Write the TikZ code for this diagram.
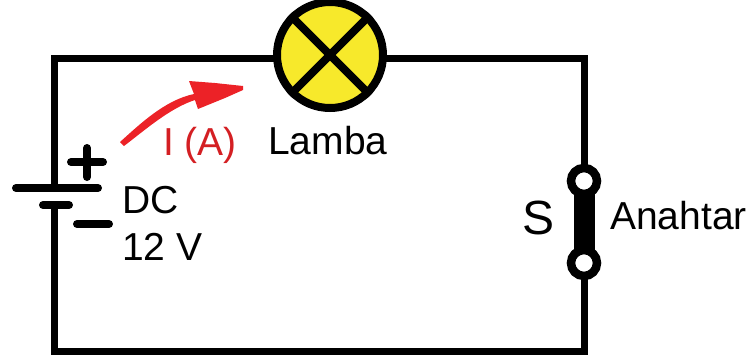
\documentclass[tikz,border=0pt]{standalone}
\usepackage{fontspec}
\setmainfont{Liberation Sans}
\definecolor{lampy}{HTML}{F7E92B}
\definecolor{cred}{HTML}{EC2227}
\tikzset{
 wire/.style={line width=7pt,black},
 plate/.style={line width=8pt,black,line cap=round},
 lbl/.style={inner sep=0pt,anchor=base west,font=\fontsize{39}{39}\selectfont,text=black},
 terminal/.style={circle,draw=black,line width=8.5pt,fill=white,minimum size=26pt,inner sep=0pt},
}
\begin{document}
\begin{tikzpicture}[x=1pt,y=-1pt]
\useasboundingbox (0,0) rectangle (750,360);
% named anchors
\coordinate (tl) at (54,58);
\coordinate (tr) at (584,58);
\coordinate (bl) at (54,351);
\coordinate (br) at (584,351);
\coordinate (pos) at (54,188);
\coordinate (neg) at (54,205);
% wires (drawn first, symbols sit on top)
\draw[wire,line join=miter] (pos) -- (tl) -- (tr) -- (584,181);
\draw[wire,line join=miter] (584,263) -- (br) -- (bl) -- (neg);
% lamp
\node[circle,draw=black,line width=8pt,fill=lampy,minimum size=106pt,inner sep=0pt] (lamp) at (330,55) {};
\draw[line width=8pt,black] (lamp.north west) -- (lamp.south east);
\draw[line width=8pt,black] (lamp.north east) -- (lamp.south west);
% switch terminals and blade
\coordinate (c1) at (584,181);
\coordinate (c2) at (584,263);
\draw[line width=21pt,black] (c1) -- (c2);
\node[terminal] (s1) at (c1) {};
\node[terminal] (s2) at (c2) {};
% battery
\draw[plate] (16,188) -- (98,188);
\draw[plate] (43,205) -- (69,205);
\draw[plate] (71,162) -- (103,162);
\draw[plate] (87,148) -- (87,177);
\draw[plate] (77,224) -- (109,224);
% current arrow
\fill[cred] (120,142) .. controls (140,124) and (165,100) .. (194,94)
  -- (189,81) -- (215,83) -- (243,86) -- (243,90) -- (225,98) -- (198,109) -- (195,100)
  .. controls (170,108) and (145,130) .. (124,146) -- cycle;
% labels
\node[lbl,text=cred!90!black] (cur) at (163,155) {I (A)};
\node[lbl] (dc) at (122,213) {DC};
\node[lbl] (v) at (122,260) {12 V};
\node[lbl] (la) at (268,154) {Lamba};
\node[lbl] (an) at (610,229) {Anahtar};
\node[lbl,font=\fontsize{48}{48}\selectfont] (s) at (522,234) {S};
\end{tikzpicture}
\end{document}
